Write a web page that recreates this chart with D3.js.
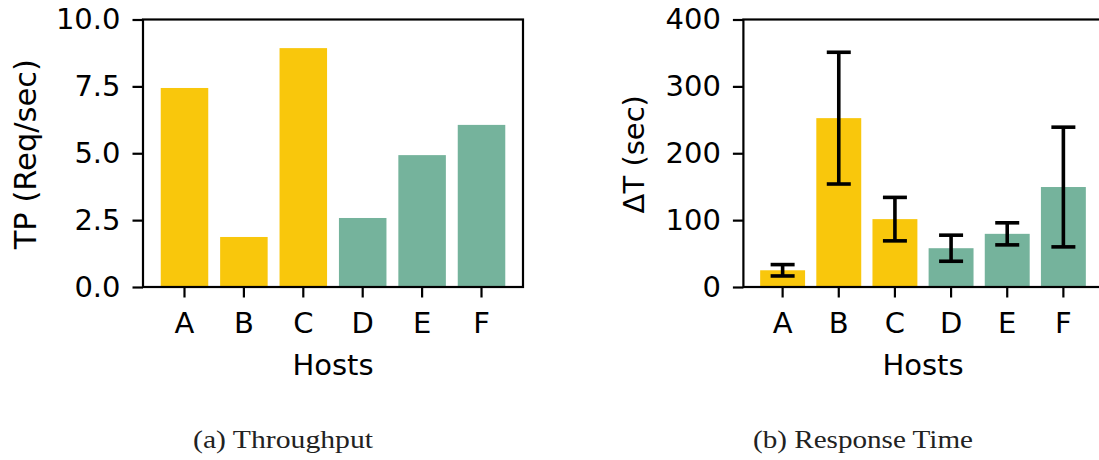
<!DOCTYPE html>
<html>
<head>
<meta charset="utf-8">
<script src="https://cdn.jsdelivr.net/npm/d3@7"></script>
<style>
  html, body { margin: 0; padding: 0; background: #fff; }
  svg { display: block; }
  .tick text { font-family: "DejaVu Sans", sans-serif; }
</style>
</head>
<body>
<svg id="fig" width="1099" height="460"></svg>
<script>
// Hosts and measurements
const hosts = ["A", "B", "C", "D", "E", "F"];
const throughput = [7.44, 1.87, 8.93, 2.58, 4.93, 6.06];
const responseTime = [25, 252.5, 101.5, 58, 79.5, 149.5];
const responseErr = [8.5, 98.5, 32.5, 19.5, 16.5, 89.5];
const hostGroup = ["fast", "fast", "fast", "slow", "slow", "slow"];
const tpTicks = [0, 2.5, 5, 7.5, 10];
const rtTicks = [0, 100, 200, 300, 400];

const groupColor = { fast: "#f9c70c", slow: "#75b39c" };
const FONT = "DejaVu Sans, sans-serif";
const FS = 29;

const svg = d3.select("#fig");

function panel(opts) {
  const { left, right, top, bottom, values, errs, domainMax, ticks, fmt, ylabel, ylabelX, ylabelSize } = opts;
  const g = svg.append("g");

  const x = d3.scaleBand().domain(hosts).range([left, right])
    .paddingInner(0.2).paddingOuter(0.2985);
  const y = d3.scaleLinear().domain([0, domainMax]).range([bottom, top]);

  // bars
  g.selectAll("rect.bar").data(hosts).join("rect")
    .attr("class", "bar")
    .attr("x", d => x(d))
    .attr("width", x.bandwidth())
    .attr("y", (d, i) => y(values[i]))
    .attr("height", (d, i) => y(0) - y(values[i]))
    .attr("fill", (d, i) => groupColor[hostGroup[i]]);

  // error bars
  if (errs) {
    const eb = g.append("g").attr("stroke", "#000").attr("stroke-width", 3.6).attr("fill", "none");
    hosts.forEach((h, i) => {
      const cx = x(h) + x.bandwidth() / 2;
      const lo = y(values[i] - errs[i]);
      const hi = y(values[i] + errs[i]);
      eb.append("line").attr("x1", cx).attr("x2", cx).attr("y1", lo).attr("y2", hi);
      eb.append("line").attr("x1", cx - 12).attr("x2", cx + 12).attr("y1", lo).attr("y2", lo);
      eb.append("line").attr("x1", cx - 12).attr("x2", cx + 12).attr("y1", hi).attr("y2", hi);
    });
  }

  // axes
  const ya = g.append("g").attr("transform", `translate(${left},0)`)
    .call(d3.axisLeft(y).tickValues(ticks).tickFormat(fmt).tickSize(10.5).tickPadding(12));
  const xa = g.append("g").attr("transform", `translate(0,${bottom})`)
    .call(d3.axisBottom(x).tickSize(10.5).tickPadding(15));
  [ya, xa].forEach(a => {
    a.select(".domain").remove();
    a.selectAll(".tick line").attr("stroke", "#000").attr("stroke-width", 2.2);
    a.selectAll(".tick text").attr("fill", "#000").style("font-size", FS + "px").style("font-family", FONT);
  });

  // frame
  g.append("rect")
    .attr("x", left).attr("y", top)
    .attr("width", right - left).attr("height", bottom - top)
    .attr("fill", "none").attr("stroke", "#000").attr("stroke-width", 2.2);

  // axis titles
  g.append("text")
    .attr("x", (left + right) / 2).attr("y", 375)
    .attr("text-anchor", "middle")
    .style("font-family", FONT).style("font-size", FS + "px")
    .text("Hosts");
  g.append("text")
    .attr("transform", `translate(${ylabelX},${(top + bottom) / 2 + 1}) rotate(-90)`)
    .attr("text-anchor", "middle")
    .style("font-family", FONT).style("font-size", ylabelSize + "px")
    .text(ylabel);
}

panel({
  left: 143, right: 523, top: 19.5, bottom: 287,
  values: throughput, errs: null, domainMax: 10, ticks: tpTicks,
  fmt: d3.format(".1f"), ylabel: "TP (Req/sec)", ylabelX: 35.5, ylabelSize: 30.5
});

panel({
  left: 743.4, right: 1102.6, top: 19.5, bottom: 287,
  values: responseTime, errs: responseErr, domainMax: 400, ticks: rtTicks,
  fmt: d3.format("d"), ylabel: "ΔT (sec)", ylabelX: 644, ylabelSize: 29
});

// sub-figure captions
const captions = [
  { text: "(a) Throughput", cx: 283, w: 180 },
  { text: "(b) Response Time", cx: 863, w: 220 }
];
svg.selectAll("text.caption").data(captions).join("text")
  .attr("class", "caption")
  .attr("x", d => d.cx - d.w / 2)
  .attr("y", 448)
  .attr("textLength", d => d.w)
  .attr("lengthAdjust", "spacingAndGlyphs")
  .style("font-family", "Liberation Serif, serif")
  .style("font-size", "26px")
  .attr("fill", "#222")
  .text(d => d.text);
</script>
</body>
</html>
